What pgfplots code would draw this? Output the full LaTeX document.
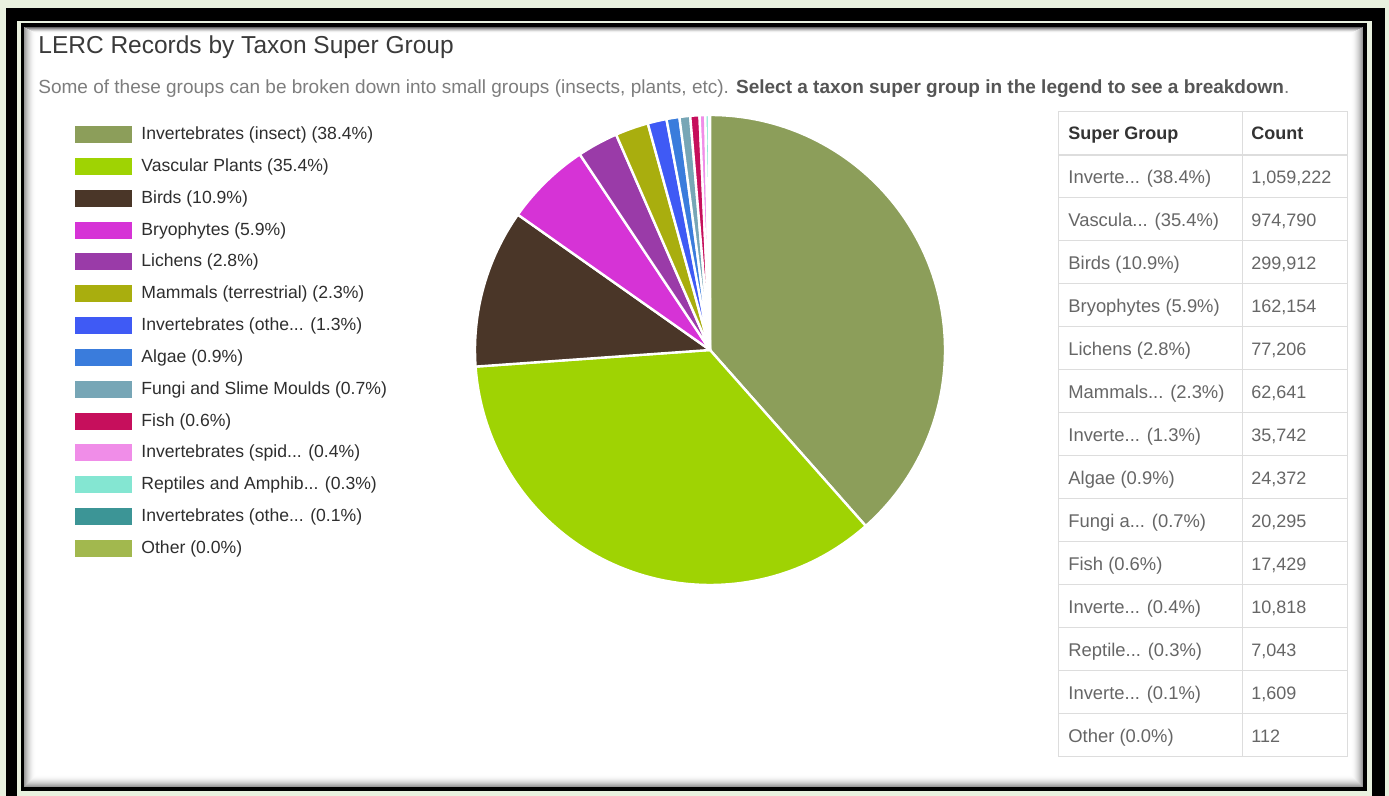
\documentclass[border=0pt]{standalone}
\usepackage{fontspec}
\setmainfont{Liberation Sans}
\usepackage{pgfplots}
\usepackage{pgfplotstable}
\pgfplotsset{compat=1.18}

% page and frame
\definecolor{pagebg}{HTML}{E9F1DF}
\definecolor{titlecol}{HTML}{3A3A3A}
\definecolor{subcol}{HTML}{7D7D7D}
\definecolor{subbold}{HTML}{555555}
\definecolor{legtext}{HTML}{2E2E2E}
\definecolor{tabtext}{HTML}{666666}
\definecolor{tabhead}{HTML}{333333}
\definecolor{tabline}{HTML}{DDDDDD}

% slice colours
\definecolor{cInsect}{HTML}{8C9E5A}
\definecolor{cVasc}{HTML}{9FD303}
\definecolor{cBirds}{HTML}{4A3628}
\definecolor{cBryo}{HTML}{D633D6}
\definecolor{cLich}{HTML}{9A3BA8}
\definecolor{cMamm}{HTML}{A9AE0E}
\definecolor{cInvO}{HTML}{3F5AF5}
\definecolor{cAlgae}{HTML}{3A7CDC}
\definecolor{cFungi}{HTML}{77A6B6}
\definecolor{cFish}{HTML}{C60F5C}
\definecolor{cSpid}{HTML}{F08DE8}
\definecolor{cRept}{HTML}{84E6D2}
\definecolor{cInvT}{HTML}{3C9596}
\definecolor{cOther}{HTML}{A2B84E}

% record counts per taxon super group
\pgfplotstableread[col sep=comma]{
id,count,colour
0,1059222,cInsect
1,974790,cVasc
2,299912,cBirds
3,162154,cBryo
4,77206,cLich
5,62641,cMamm
6,35742,cInvO
7,24372,cAlgae
8,20295,cFungi
9,17429,cFish
10,10818,cSpid
11,7043,cRept
12,1609,cInvT
13,112,cOther
}\taxa

\newcommand\leglabel[1]{\ifcase#1
 Invertebrates (insect) (38.4\%)\or
 Vascular Plants (35.4\%)\or
 Birds (10.9\%)\or
 Bryophytes (5.9\%)\or
 Lichens (2.8\%)\or
 Mammals (terrestrial) (2.3\%)\or
 Invertebrates (othe... (1.3\%)\or
 Algae (0.9\%)\or
 Fungi and Slime Moulds (0.7\%)\or
 Fish (0.6\%)\or
 Invertebrates (spid... (0.4\%)\or
 Reptiles and Amphib... (0.3\%)\or
 Invertebrates (othe... (0.1\%)\or
 Other (0.0\%)\fi}

\newcommand\tabname[1]{\ifcase#1
 Inverte... (38.4\%)\or
 Vascula... (35.4\%)\or
 Birds (10.9\%)\or
 Bryophytes (5.9\%)\or
 Lichens (2.8\%)\or
 Mammals... (2.3\%)\or
 Inverte... (1.3\%)\or
 Algae (0.9\%)\or
 Fungi a... (0.7\%)\or
 Fish (0.6\%)\or
 Inverte... (0.4\%)\or
 Reptile... (0.3\%)\or
 Inverte... (0.1\%)\or
 Other (0.0\%)\fi}

\begin{document}
\begin{tikzpicture}
% total of all records
\gdef\total{0}
\pgfplotsforeachungrouped \i in {0,...,13}{%
  \pgfplotstablegetelem{\i}{count}\of\taxa
  \xdef\total{\fpeval{\total+\pgfplotsretval}}%
}
\begin{axis}[
  width=694.5pt, height=398pt, scale only axis,
  xmin=0, xmax=1389, ymin=0, ymax=796, y dir=reverse,
  hide axis, clip=false,
]
% frame
\fill[pagebg] (axis cs:0,0) rectangle (axis cs:1389,796);
\fill[black] (axis cs:6,8) rectangle (axis cs:1385,796);
\fill[pagebg] (axis cs:17,21) rectangle (axis cs:1372,796);
\fill[black] (axis cs:21,23) rectangle (axis cs:1367,791);
\fill[white] (axis cs:24,27) rectangle (axis cs:1363,787);
% inner shadow of the panel
\pgfplotsforeachungrouped \k in {0,...,11}{%
  \edef\op{\fpeval{round(0.40*(1-\k/12)^2,3)}}%
  \edef\xa{\fpeval{24.5+\k}}\edef\ya{\fpeval{27.5+0.5*\k}}%
  \edef\xb{\fpeval{1362.5-\k}}\edef\yb{\fpeval{786.5-\k}}%
  \edef\cmd{\noexpand\draw[black, opacity=\op, line width=0.5pt]
    (axis cs:\xa,\ya) rectangle (axis cs:\xb,\yb);}%
  \cmd
}

% title and subtitle
\node[anchor=base west, inner sep=0pt, font=\fontsize{12.25}{14}\selectfont, text=titlecol]
  at (axis cs:38,53.5) {LERC Records by Taxon Super Group};
\node[anchor=base west, inner sep=0pt, font=\fontsize{9.5}{11}\selectfont]
  at (axis cs:38,93.5) {{\color{subcol}Some of these groups can be broken down into small groups (insects, plants, etc). }{\color{subbold}\bfseries Select a taxon super group in the legend to see a breakdown}{\color{subcol}.}};

% pie slices, clockwise from twelve o'clock
\gdef\cum{0}
\pgfplotsforeachungrouped \i in {0,...,13}{%
  \pgfplotstablegetelem{\i}{count}\of\taxa \let\cnt\pgfplotsretval
  \pgfplotstablegetelem{\i}{colour}\of\taxa \let\col\pgfplotsretval
  \edef\sa{\fpeval{round(90-360*\cum/\total,4)}}%
  \xdef\cum{\fpeval{\cum+\cnt}}%
  \edef\sb{\fpeval{round(90-360*\cum/\total,4)}}%
  \edef\cmd{\noexpand\filldraw[fill=\col, draw=white, line width=1.2pt, line join=round]
    (axis cs:710,350) -- ([shift={(\sa:117.5pt)}]axis cs:710,350)
    arc[start angle=\sa, end angle=\sb, radius=117.5pt] -- cycle;}%
  \cmd
}

% legend
\pgfplotsforeachungrouped \i in {0,...,13}{%
  \pgfplotstablegetelem{\i}{colour}\of\taxa \let\col\pgfplotsretval
  \edef\ya{\fpeval{126+31.85*\i}}\edef\yb{\fpeval{143+31.85*\i}}%
  \edef\yt{\fpeval{139.5+31.85*\i}}%
  \edef\cmd{\noexpand\fill[\col] (axis cs:75,\ya) rectangle (axis cs:132,\yb);
    \noexpand\node[anchor=base west, inner sep=0pt, text=legtext,
      font=\noexpand\fontsize{8.8}{10}\noexpand\selectfont]
      at (axis cs:141,\yt) {\noexpand\leglabel{\i}};}%
  \cmd
}

% table
\pgfplotsforeachungrouped \k in {0,...,14}{%
  \edef\yl{\fpeval{155+43*\k}}%
  \edef\cmd{\noexpand\draw[tabline, line width=0.5pt] (axis cs:1058,\yl) -- (axis cs:1347,\yl);}%
  \cmd
}
\draw[tabline, line width=1pt] (axis cs:1058,155) -- (axis cs:1347,155);
\draw[tabline, line width=0.5pt] (axis cs:1058,112) rectangle (axis cs:1347,757);
\draw[tabline, line width=0.5pt] (axis cs:1242,112) -- (axis cs:1242,757);
\node[anchor=base west, inner sep=0pt, text=tabhead, font=\fontsize{9}{10}\selectfont\bfseries]
  at (axis cs:1068,140) {Super Group};
\node[anchor=base west, inner sep=0pt, text=tabhead, font=\fontsize{9}{10}\selectfont\bfseries]
  at (axis cs:1251,140) {Count};
\pgfplotsforeachungrouped \i in {0,...,13}{%
  \pgfplotstablegetelem{\i}{count}\of\taxa \let\cnt\pgfplotsretval
  \edef\yt{\fpeval{184+43*\i}}%
  \edef\cmd{\noexpand\node[anchor=base west, inner sep=0pt, text=tabtext,
      font=\noexpand\fontsize{9.2}{10}\noexpand\selectfont]
      at (axis cs:1068,\yt) {\noexpand\tabname{\i}};
    \noexpand\node[anchor=base west, inner sep=0pt, text=tabtext,
      font=\noexpand\fontsize{9}{10}\noexpand\selectfont]
      at (axis cs:1251,\yt) {\noexpand\pgfmathprintnumber[fixed, precision=0,
        1000 sep={,}, assume math mode=true]{\cnt}};}%
  \cmd
}
\end{axis}
\end{tikzpicture}
\end{document}
